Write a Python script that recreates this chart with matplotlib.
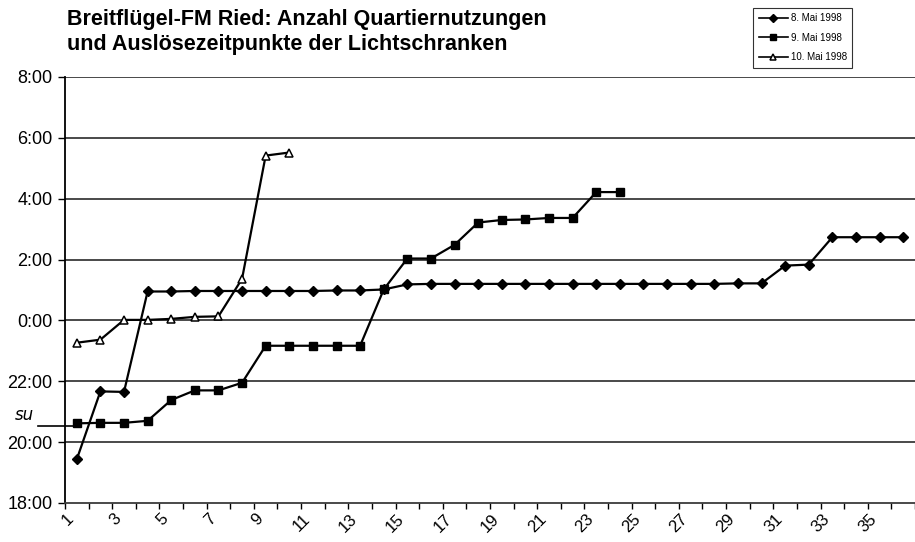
import matplotlib.pyplot as plt
import numpy as np

plt.rcParams['font.family'] = ['Liberation Sans', 'DejaVu Sans']

# Auslösezeitpunkte der Lichtschranken (Uhrzeit), je Quartiernutzung
mai_08 = ['19:26', '21:40', '21:39', '0:57', '0:57', '0:58', '0:58', '0:58',
          '0:58', '0:58', '0:58', '0:59', '0:59', '1:01', '1:11', '1:12',
          '1:12', '1:12', '1:12', '1:12', '1:12', '1:12', '1:12', '1:12',
          '1:12', '1:12', '1:12', '1:12', '1:13', '1:13', '1:48', '1:50',
          '2:44', '2:44', '2:44', '2:44']
mai_09 = ['20:37', '20:38', '20:38', '20:42', '21:23', '21:42', '21:42',
          '21:57', '23:10', '23:10', '23:10', '23:10', '23:10', '1:01',
          '2:02', '2:02', '2:29', '3:13', '3:18', '3:19', '3:22', '3:22',
          '4:13', '4:13']
mai_10 = ['23:16', '23:22', '0:01', '0:01', '0:03', '0:07', '0:08', '1:22',
          '5:25', '5:31']
series_labels = ['8. Mai 1998', '9. Mai 1998', '10. Mai 1998']

y_ticklabels = ['18:00', '20:00', '22:00', '0:00', '2:00', '4:00', '6:00', '8:00']
sunset = '20:31'  # handschriftliche Markierung "su"

title_lines = ['Breitflügel-FM Ried: Anzahl Quartiernutzungen',
               'und Auslösezeitpunkte der Lichtschranken']


def hours_since_18(t):
    h, m = t.split(':')
    v = int(h) + int(m) / 60 - 18
    return v + 24 if v < 0 else v


fig = plt.figure(figsize=(9.15, 5.42), dpi=100)
ax = fig.add_axes([0.071, 0.072, 0.929, 0.786])

# Gitterlinien
for y in range(2, 16, 2):
    ax.axhline(y, color='#3a3a3a', lw=1.3, zorder=1)

styles = [
    dict(marker='D', ms=5.5, mfc='black'),
    dict(marker='s', ms=5.5, mfc='black'),
    dict(marker='^', ms=6, mfc='white', mew=1.1),
]
for data, lab, st in zip([mai_08, mai_09, mai_10], series_labels, styles):
    x = np.arange(1, len(data) + 1)
    y = [hours_since_18(t) for t in data]
    ax.plot(x, y, color='black', lw=1.6, mec='black', label=lab, zorder=3, **st)

ax.set_xlim(0.5, 36.5)
ax.set_ylim(0, 14)
ax.set_yticks(range(0, 15, 2))
ax.set_yticklabels(y_ticklabels, fontsize=13)
ax.set_xticks(range(1, 37, 2))
ax.set_xticklabels([str(i) for i in range(1, 37, 2)], rotation=45,
                   ha='right', fontsize=12)
ax.set_xticks(np.arange(0.5, 37, 1), minor=True)
ax.tick_params(axis='x', which='major', length=0, pad=6)
ax.tick_params(axis='x', which='minor', length=4, width=1, direction='out')
ax.tick_params(axis='y', length=5, width=1, direction='out', pad=4)

for s in ['top', 'right']:
    ax.spines[s].set_visible(False)
ax.spines['left'].set_linewidth(1.3)
ax.spines['bottom'].set_linewidth(1.3)
ax.spines['bottom'].set_color('#3a3a3a')

# Sonnenuntergang
ysu = hours_since_18(sunset)
ax.plot([-0.65, 1], [ysu, ysu], color='black', lw=1.2, clip_on=False, zorder=2)
ax.text(-1.2, ysu + 0.08, 'su', fontsize=12, style='italic', ha='center',
        va='bottom', family='DejaVu Sans')

# Titel, zwei Zeilen
fig.text(0.0735, 1 - 25 / 542, title_lines[0], fontsize=15.5,
         fontweight='bold', ha='left', va='baseline')
fig.text(0.0735, 1 - 50 / 542, title_lines[1], fontsize=15.5,
         fontweight='bold', ha='left', va='baseline')

leg = fig.legend(loc='upper left', bbox_to_anchor=(0.818, 0.995), fontsize=7,
                 frameon=True, fancybox=False, edgecolor='black',
                 handlelength=3.0, borderpad=0.55, labelspacing=1.0,
                 handletextpad=0.3)
leg.get_frame().set_linewidth(0.8)
for h in leg.legend_handles:
    h.set_markersize(4.5)
    h.set_linewidth(1.2)

fig.savefig('out.png', dpi=100)
